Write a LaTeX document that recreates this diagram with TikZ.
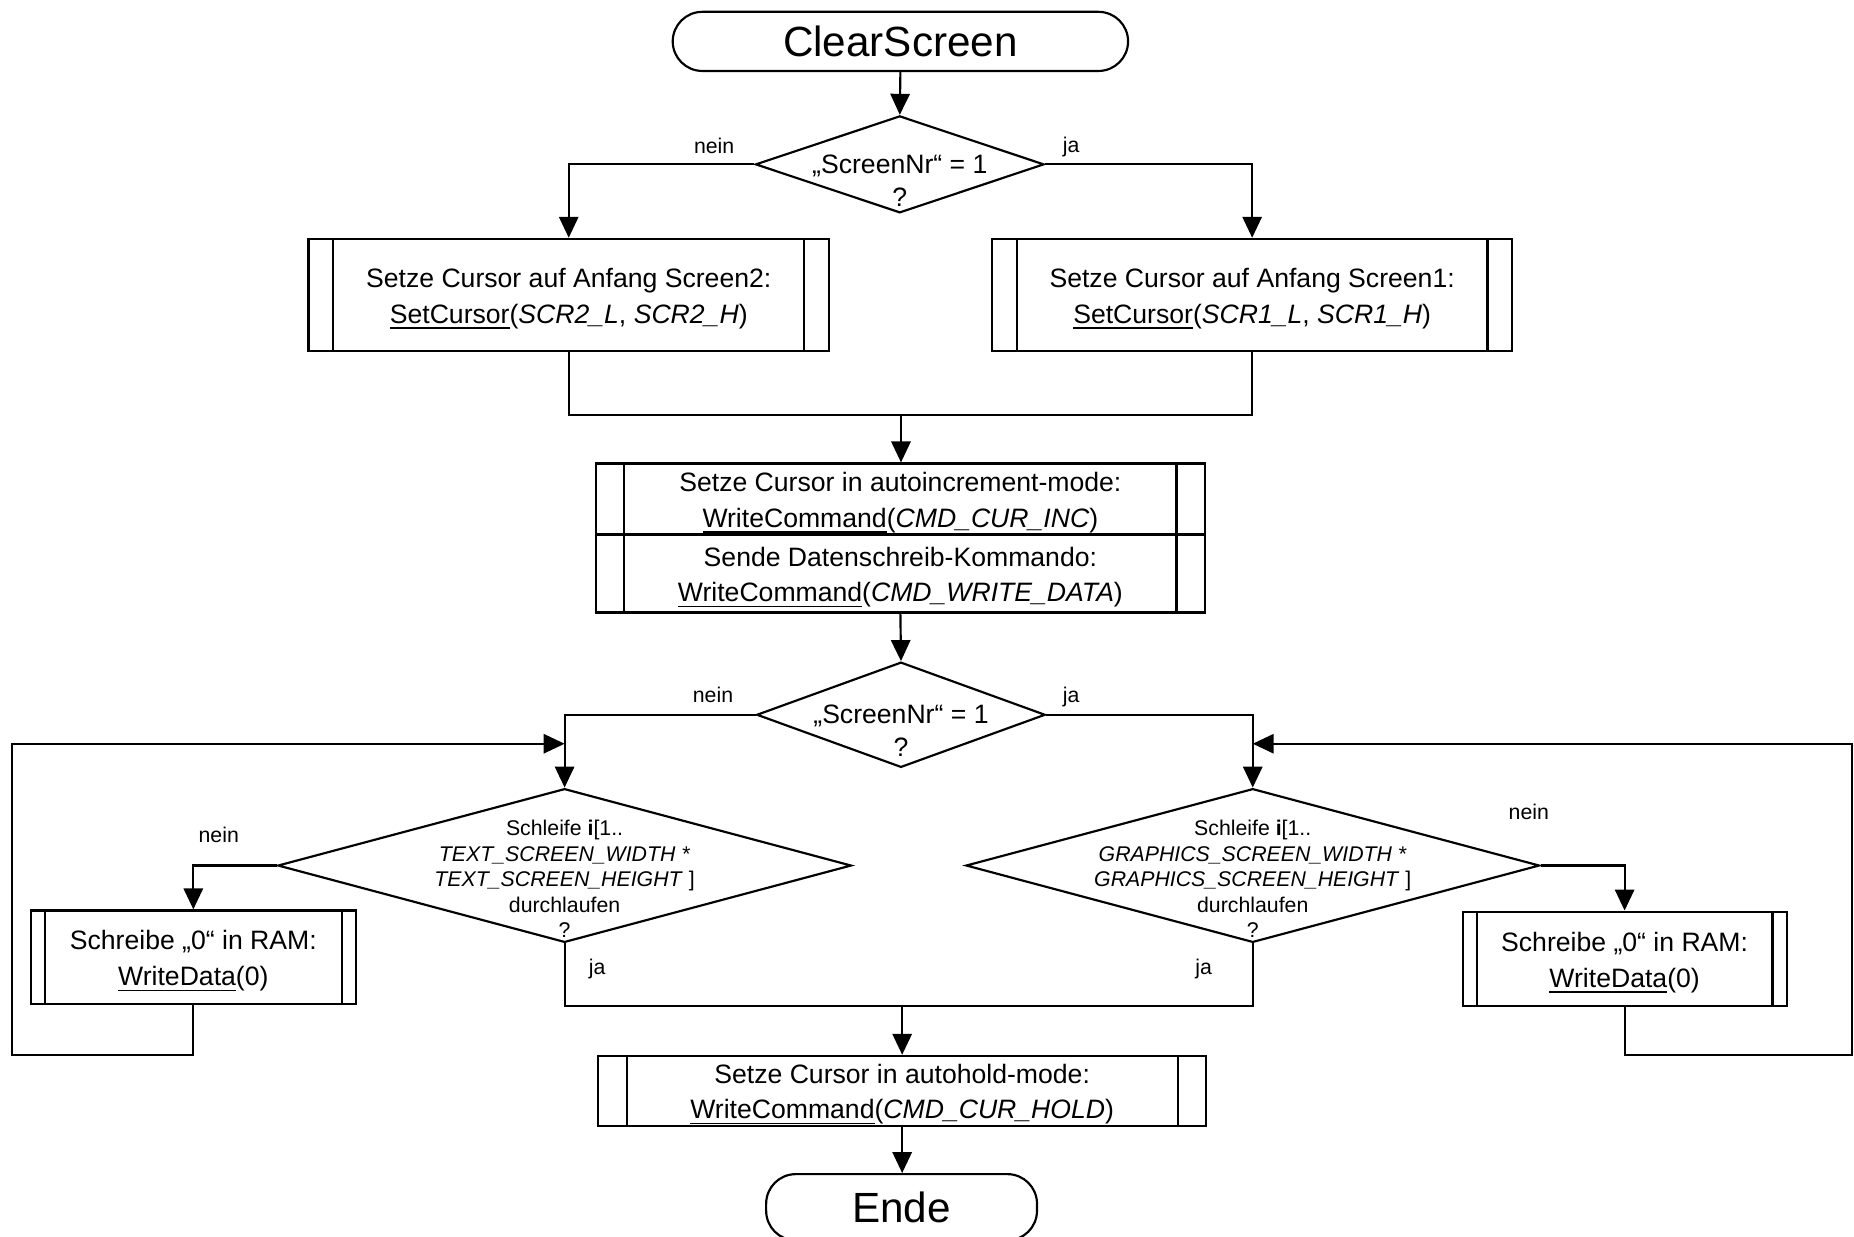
\documentclass[tikz,border=0pt]{standalone}
\usepackage{fontspec}
\setmainfont{Liberation Sans}
\usetikzlibrary{arrows.meta,shapes.geometric}

\newcommand\fmain{\fontsize{8}{10.7}\selectfont}
\newcommand\fsmall{\fontsize{6.4}{7.65}\selectfont}
\newcommand\ftitle{\fontsize{12.7}{15}\selectfont}

\tikzset{
  base/.style={line width=0.65pt},
  arr/.style={base, -{Triangle[length=6.3pt,width=5.8pt]}},
  lnk/.style={base},
  term/.style={draw, base, rounded corners=8.9pt, inner sep=0pt, font=\ftitle},
  proc/.style={draw, base, rectangle, inner sep=0pt,
    path picture={
      \draw[base] ([xshift=#1]path picture bounding box.north west) -- ([xshift=#1]path picture bounding box.south west);
      \draw[base] ([xshift=-#1]path picture bounding box.north east) -- ([xshift=-#1]path picture bounding box.south east);
    }},
  ptext/.style={align=center, inner sep=0pt, font=\fmain, yshift=-0.044cm},
  dec/.style={draw, base, diamond, inner sep=0pt},
  dectext/.style={align=center, inner sep=0pt, font=\fmain},
  looptext/.style={align=center, inner sep=0pt, font=\fsmall},
  lbl/.style={inner sep=0pt, font=\fsmall},
}

\begin{document}
\begin{tikzpicture}[x=0.0125cm, y=-0.0125cm]
\useasboundingbox (0,0) rectangle (1568,1046);

% terminals
\node[term, minimum width=4.8125cm, minimum height=0.625cm] (start) at (761.5,35) {ClearScreen};
\node[term, minimum width=2.8625cm, minimum height=0.7cm] (ende) at (762.5,1021) {Ende};

% first decision
\node[dec, minimum width=3.05cm, minimum height=1.025cm] (d1) at (761,139) {};
\node[dectext] (d1t) at (761,153) {„ScreenNr“ = 1\\[-0.6pt]?};
\node[lbl] (n1) at (604,123) {nein};
\node[lbl] (j1) at (906,124.5) {ja};

% cursor to screen start
\node[proc=0.2625cm, minimum width=5.5cm, minimum height=1.1875cm,
  label={[ptext]center:Setze Cursor auf Anfang Screen2:\\\underline{SetCursor}(\textit{SCR2\_L}, \textit{SCR2\_H})}]
  (b1L) at (481,249.5) {};
\node[proc=0.2625cm, minimum width=5.5cm, minimum height=1.1875cm,
  label={[ptext]center:Setze Cursor auf Anfang Screen1:\\\underline{SetCursor}(\textit{SCR1\_L}, \textit{SCR1\_H})}]
  (b1R) at (1059,249.5) {};

% command boxes
\node[proc=0.3cm, minimum width=6.4375cm, minimum height=0.75cm,
  label={[ptext]center:Setze Cursor in autoincrement-mode:\\\underline{WriteCommand}(\textit{CMD\_CUR\_INC})}]
  (c1) at (761.5,422) {};
\node[proc=0.3cm, minimum width=6.4375cm, minimum height=0.825cm,
  label={[ptext]center:Sende Datenschreib-Kommando:\\\underline{WriteCommand}(\textit{CMD\_WRITE\_DATA})}]
  (c2) at (761.5,485) {};

% second decision
\node[dec, minimum width=3.05cm, minimum height=1.1125cm] (d2) at (762,604.5) {};
\node[dectext] (d2t) at (762,618) {„ScreenNr“ = 1\\[-0.6pt]?};
\node[lbl] (n2) at (603,588) {nein};
\node[lbl] (j2) at (906,589.5) {ja};

% loops
\node[dec, minimum width=6.0625cm, minimum height=1.625cm] (lpL) at (477.5,732) {};
\node[looptext] (lpLt) at (477.5,743.5)
  {Schleife \textbf{i}[1..\\\textit{TEXT\_SCREEN\_WIDTH *}\\\textit{TEXT\_SCREEN\_HEIGHT} ]\\durchlaufen\\?};
\node[dec, minimum width=6.0625cm, minimum height=1.625cm] (lpR) at (1059.5,732) {};
\node[looptext] (lpRt) at (1059.5,743.5)
  {Schleife \textbf{i}[1..\\\textit{GRAPHICS\_SCREEN\_WIDTH *}\\\textit{GRAPHICS\_SCREEN\_HEIGHT} ]\\durchlaufen\\?};
\node[lbl] (n3) at (185,706) {nein};
\node[lbl] (n4) at (1293,687) {nein};
\node[lbl] (j3) at (505,819.5) {ja};
\node[lbl] (j4) at (1018,819.5) {ja};

\node[proc=0.15cm, minimum width=3.4375cm, minimum height=0.9875cm,
  label={[ptext]center:Schreibe „0“ in RAM:\\\underline{WriteData}(0)}]
  (wL) at (163.5,809.5) {};
\node[proc=0.15cm, minimum width=3.425cm, minimum height=1cm,
  label={[ptext]center:Schreibe „0“ in RAM:\\\underline{WriteData}(0)}]
  (wR) at (1374,811) {};

% final command
\node[proc=0.3cm, minimum width=6.425cm, minimum height=0.7375cm,
  label={[ptext]center:Setze Cursor in autohold-mode:\\\underline{WriteCommand}(\textit{CMD\_CUR\_HOLD})}]
  (hold) at (763,922.5) {};

% junction points
\coordinate (m1) at (762,351);
\coordinate (m2) at (763,851);
\coordinate (retL) at (477.5,629);
\coordinate (retR) at (1059.5,629);
\coordinate (cL) at (10,892);
\coordinate (cR) at (1566.5,892);

% connectors
\draw[arr] (start.south) -- (d1.north);
\draw[arr] (d1.west) -| (b1L.north);
\draw[arr] (d1.east) -| (b1R.north);
\draw[lnk] (b1L.south) |- (m1) -| (b1R.south);
\draw[arr] (m1) -- (m1 |- c1.north);
\draw[arr] (c2.south) -- (d2.north);
\draw[arr] (d2.west) -| (lpL.north);
\draw[arr] (d2.east) -| (lpR.north);
\draw[arr] (lpL.west) -| (wL.north);
\draw[arr] (lpR.east) -| (wR.north);
\draw[arr] (wL.south) |- (cL) |- (retL);
\draw[arr] (wR.south) |- (cR) |- (retR);
\draw[lnk] (lpL.south) |- (m2) -| (lpR.south);
\draw[arr] (m2) -- (m2 |- hold.north);
\draw[arr] (hold.south) -- (hold.south |- ende.north);
\end{tikzpicture}
\end{document}
